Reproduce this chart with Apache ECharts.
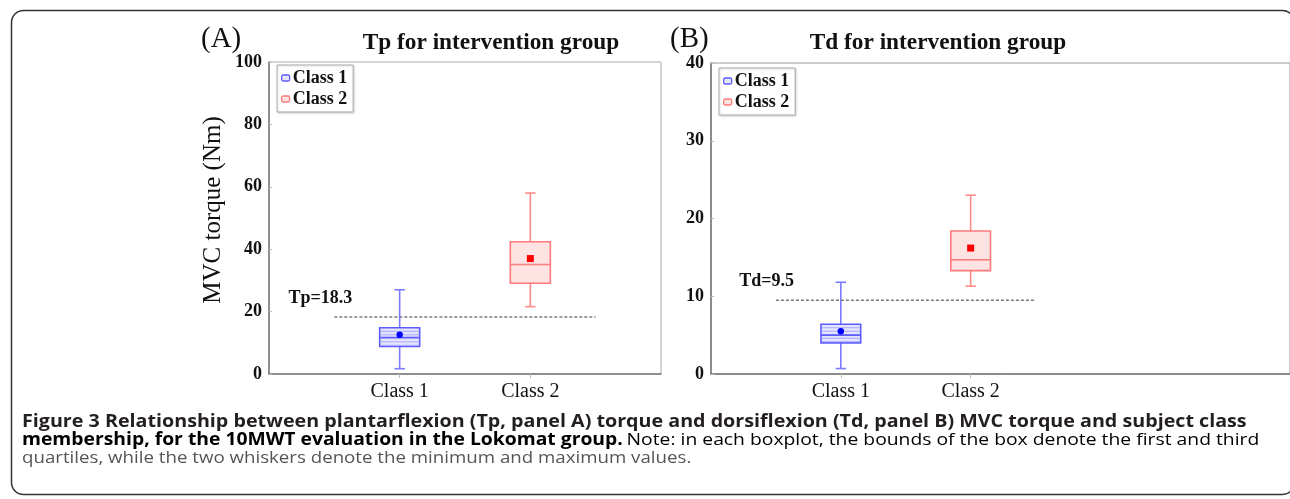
<!DOCTYPE html>
<html>
<head>
<meta charset="utf-8">
<script src="https://cdn.jsdelivr.net/npm/echarts@6/dist/echarts.min.js"></script>
<style>
  html, body { margin: 0; padding: 0; background: #fff; }
  #chart { width: 1290px; height: 499px; }
</style>
</head>
<body>
<div id="chart"></div>
<script>
// class labels on the x axis (placed at x = 1 and x = 2)
const classes = ["Class 1", "Class 2"];
const classPos = [1, 2];

// panel A: plantarflexion torque (Nm)
const tpMin = [1.7, 21.6];
const tpQ1 = [8.8, 29.1];
const tpMedian = [11.7, 35.1];
const tpQ3 = [14.8, 42.4];
const tpMax = [27.0, 58.0];
const tpMean = [12.6, 37.0];
const tpCutoff = 18.3;

// panel B: dorsiflexion torque (Nm)
const tdMin = [0.7, 11.3];
const tdQ1 = [4.0, 13.3];
const tdMedian = [5.0, 14.7];
const tdQ3 = [6.4, 18.4];
const tdMax = [11.8, 23.0];
const tdMean = [5.5, 16.2];
const tdCutoff = 9.5;

const SERIF = "Liberation Serif";
const look = [
    { stroke: "#5c5cff", whisker: "#7b7bff", fill: "#e4e4ff", hatch: "#a9a9ff", mean: "#0000ff" },
    { stroke: "#ff7a7a", whisker: "#ff8a8a", fill: "#ffe3e3", hatch: null, mean: "#ff0000" },
];

function box_row(i, mins, q1, med, q3, maxs, mean) {
    return [[classPos[i], mins[i], q1[i], med[i], q3[i], maxs[i], mean[i]]];
}

function render_box(k) {
    const c = look[k];
    return function (params, api) {
        const x = api.value(0);
        const half = api.size([0.153, 0])[0];
        const cap = api.size([0.04, 0])[0];
        const pMin = api.coord([x, api.value(1)]);
        const pQ1 = api.coord([x, api.value(2)]);
        const pMed = api.coord([x, api.value(3)]);
        const pQ3 = api.coord([x, api.value(4)]);
        const pMax = api.coord([x, api.value(5)]);
        const pMean = api.coord([x, api.value(6)]);
        const cx = pMin[0];
        const wl = { stroke: c.whisker, lineWidth: 1.6 };
        const kids = [
            { type: "line", shape: { x1: cx, y1: pMax[1], x2: cx, y2: pQ3[1] }, style: wl },
            { type: "line", shape: { x1: cx, y1: pMin[1], x2: cx, y2: pQ1[1] }, style: wl },
            { type: "line", shape: { x1: cx - cap, y1: pMax[1], x2: cx + cap, y2: pMax[1] }, style: wl },
            { type: "line", shape: { x1: cx - cap, y1: pMin[1], x2: cx + cap, y2: pMin[1] }, style: wl },
            {
                type: "rect",
                shape: { x: cx - half, y: pQ3[1], width: half * 2, height: pQ1[1] - pQ3[1] },
                style: { fill: c.fill, stroke: c.stroke, lineWidth: 1.6 },
            },
        ];
        if (c.hatch) {
            for (let y = pQ3[1] + 3.5; y < pQ1[1] - 1; y += 3.5) {
                kids.push({ type: "line", shape: { x1: cx - half + 1, y1: y, x2: cx + half - 1, y2: y }, style: { stroke: c.hatch, lineWidth: 1 } });
            }
        }
        kids.push({ type: "line", shape: { x1: cx - half, y1: pMed[1], x2: cx + half, y2: pMed[1] }, style: { stroke: c.stroke, lineWidth: 1.6 } });
        if (k === 0) {
            kids.push({ type: "circle", shape: { cx: cx, cy: pMean[1], r: 3.2 }, style: { fill: c.mean } });
        } else {
            kids.push({ type: "rect", shape: { x: cx - 3.5, y: pMean[1] - 3.5, width: 7, height: 7 }, style: { fill: c.mean } });
        }
        return { type: "group", children: kids };
    };
}

function render_cutoff(label) {
    return function (params, api) {
        const a = api.coord([api.value(0), api.value(2)]);
        const b = api.coord([api.value(1), api.value(2)]);
        return {
            type: "group",
            children: [
                { type: "line", shape: { x1: a[0], y1: a[1], x2: b[0], y2: b[1] }, style: { stroke: "#7a7a7a", lineWidth: 1.5, lineDash: [3, 2] } },
                {
                    type: "text",
                    style: {
                        text: label, x: a[0] + 18, y: a[1] - 10, align: "right", verticalAlign: "bottom",
                        font: "bold 18px " + SERIF, fill: "#111",
                    },
                },
            ],
        };
    };
}

function y_axis(grid, max, step) {
    return {
        type: "value", gridIndex: grid, min: 0, max: max, interval: step,
        axisLine: { show: true, lineStyle: { color: "#777", width: 1.5 } },
        axisTick: { show: true, inside: true, length: 3, lineStyle: { color: "#bbb" } },
        splitLine: { show: false },
        axisLabel: { fontFamily: SERIF, fontWeight: "bold", fontSize: 18, color: "#111", margin: 7 },
    };
}

function x_axis(grid, max) {
    return {
        type: "value", gridIndex: grid, min: 0, max: max,
        axisLine: { show: true, lineStyle: { color: "#777", width: 1.5 } },
        axisTick: { show: true, customValues: classPos, length: 4, lineStyle: { color: "#bbb" } },
        splitLine: { show: false },
        axisLabel: {
            customValues: classPos,
            formatter: (v) => classes[Math.round(v) - 1] || "",
            fontFamily: SERIF, fontSize: 20, color: "#111", margin: 8,
        },
    };
}

function legend_at(left, top) {
    return {
        left: left, top: top, orient: "vertical", itemGap: 3, itemWidth: 8, itemHeight: 6,
        icon: "roundRect", padding: [4, 6, 4, 4], selectedMode: false,
        borderColor: "#aaa", borderWidth: 1,
        shadowColor: "rgba(0,0,0,0.15)", shadowBlur: 2, shadowOffsetX: 1, shadowOffsetY: 1,
        backgroundColor: "#fff",
        textStyle: { fontFamily: SERIF, fontWeight: "bold", fontSize: 18, color: "#111", padding: [0, 0, 0, -2] },
        data: classes.map((n, k) => ({
            name: n,
            itemStyle: { color: look[k].fill, borderColor: look[k].stroke, borderWidth: 1.3 },
        })),
    };
}

function caption_line(y, sx, style) {
    return { type: "text", x: 22, y: y, scaleX: sx, style: Object.assign({ verticalAlign: "middle" }, style) };
}

const chart = echarts.init(document.getElementById("chart"), null, { renderer: "canvas" });

chart.setOption({
    animation: false,
    backgroundColor: "#fff",
    title: [
        { text: "(A)", left: 196, top: 20, textStyle: { fontFamily: SERIF, fontWeight: "normal", fontSize: 29, color: "#111" } },
        { text: "(B)", left: 665, top: 20, textStyle: { fontFamily: SERIF, fontWeight: "normal", fontSize: 29, color: "#111" } },
        { text: "Tp for intervention group", left: 486, top: 26, textAlign: "center", textStyle: { fontFamily: SERIF, fontWeight: "bold", fontSize: 23.3, color: "#111" } },
        { text: "Td for intervention group", left: 933, top: 26, textAlign: "center", textStyle: { fontFamily: SERIF, fontWeight: "bold", fontSize: 23.3, color: "#111" } },
    ],
    legend: [legend_at(277, 65), legend_at(719, 68)],
    grid: [
        { left: 269, top: 62, width: 392, height: 312, show: true, borderColor: "#aaa", borderWidth: 1 },
        { left: 711, top: 63, width: 582, height: 311, show: true, borderColor: "#999", borderWidth: 1 },
    ],
    xAxis: [x_axis(0, 3), x_axis(1, 582 / 130.5)],
    yAxis: [y_axis(0, 100, 20), y_axis(1, 40, 10)],
    series: [
        { type: "custom", name: classes[0], xAxisIndex: 0, yAxisIndex: 0, renderItem: render_box(0), encode: { x: 0, y: [1, 2, 3, 4, 5, 6] }, data: box_row(0, tpMin, tpQ1, tpMedian, tpQ3, tpMax, tpMean), itemStyle: { color: look[0].stroke } },
        { type: "custom", name: classes[1], xAxisIndex: 0, yAxisIndex: 0, renderItem: render_box(1), encode: { x: 0, y: [1, 2, 3, 4, 5, 6] }, data: box_row(1, tpMin, tpQ1, tpMedian, tpQ3, tpMax, tpMean), itemStyle: { color: look[1].stroke } },
        { type: "custom", name: "cutA", xAxisIndex: 0, yAxisIndex: 0, renderItem: render_cutoff("Tp=" + tpCutoff), encode: { x: [0, 1], y: 2 }, data: [[0.5, 2.5, tpCutoff]], silent: true },
        { type: "custom", name: classes[0], xAxisIndex: 1, yAxisIndex: 1, renderItem: render_box(0), encode: { x: 0, y: [1, 2, 3, 4, 5, 6] }, data: box_row(0, tdMin, tdQ1, tdMedian, tdQ3, tdMax, tdMean), itemStyle: { color: look[0].stroke } },
        { type: "custom", name: classes[1], xAxisIndex: 1, yAxisIndex: 1, renderItem: render_box(1), encode: { x: 0, y: [1, 2, 3, 4, 5, 6] }, data: box_row(1, tdMin, tdQ1, tdMedian, tdQ3, tdMax, tdMean), itemStyle: { color: look[1].stroke } },
        { type: "custom", name: "cutB", xAxisIndex: 1, yAxisIndex: 1, renderItem: render_cutoff("Td=" + tdCutoff), encode: { x: [0, 1], y: 2 }, data: [[0.5, 2.5, tdCutoff]], silent: true },
    ],
    graphic: [
        {
            type: "rect", left: 9, top: 8, z: -1, silent: true,
            shape: { width: 1283, height: 484, r: 12 },
            style: { fill: "none", stroke: "#333", lineWidth: 1.5 },
        },
        {
            type: "text", x: 213, y: 210, rotation: Math.PI / 2,
            style: { text: "MVC torque (Nm)", font: "25px " + SERIF, fill: "#111", align: "center", verticalAlign: "middle" },
        },
        caption_line(422, 1.158, {
            text: "Figure 3 Relationship between plantarflexion (Tp, panel A) torque and dorsiflexion (Td, panel B) MVC torque and subject class",
            font: "bold 17px 'Open Sans'", fill: "#231f20",
        }),
        caption_line(440, 1.136, {
            text: "{b|membership, for the 10MWT evaluation in the Lokomat group.} {r|Note: in each boxplot, the bounds of the box denote the first and third}",
            rich: {
                b: { fontFamily: "Open Sans", fontWeight: "bold", fontSize: 17, color: "#231f20" },
                r: { fontFamily: "Open Sans", fontSize: 17, color: "#555" },
            },
        }),
        caption_line(458, 1.099, {
            text: "quartiles, while the two whiskers denote the minimum and maximum values.",
            font: "17px 'Open Sans'", fill: "#555",
        }),
    ],
});
</script>
</body>
</html>
